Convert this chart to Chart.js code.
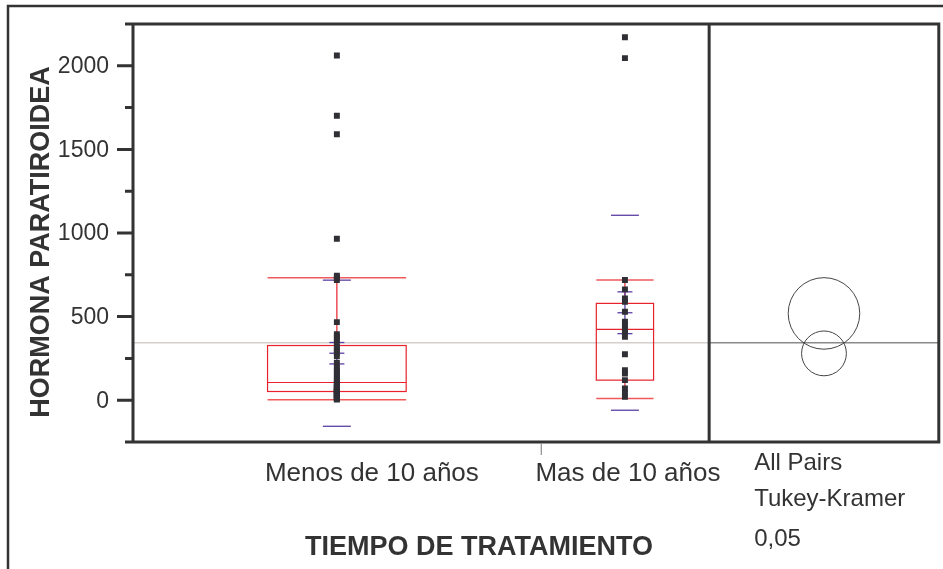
<!DOCTYPE html>
<html>
<head>
<meta charset="utf-8">
<script src="https://cdn.jsdelivr.net/npm/chart.js@4/dist/chart.umd.min.js"></script>
<style>
  html, body { margin: 0; padding: 0; background: #fff; }
  canvas { display: block; }
</style>
</head>
<body>
<canvas id="c" width="943" height="569"></canvas>
<script>
// Parathyroid hormone by treatment time: one-way analysis with outlier boxes,
// mean / std-dev lines and Tukey-Kramer comparison circles.
const categories = ['Menos de 10 años', 'Mas de 10 años'];
const groupSizes = [46, 19];

const menosValues = [
  2062, 1701, 1591, 966, 745, 732, 718, 467, 395, 380, 360, 340,
  315, 300, 285, 263, 223, 195, 180, 160, 145, 125, 112,
  100, 95, 88, 80, 75, 70, 65, 60, 57, 54, 52,
  48, 44, 40, 35, 30, 26, 22, 18, 14, 10, 7, 4
];
const masValues = [
  2171, 2046, 719, 663, 609, 589, 529, 469, 449, 423,
  409, 379, 275, 180, 160, 120, 70, 45, 20
];

// Outlier box statistics per group
const whiskerLow = [3, 10];
const quartile1 = [52, 120];
const medians = [106, 423];
const quartile3 = [327, 579];
const whiskerHigh = [732, 719];

// Means with standard deviation and standard error
const means = [281, 523];
const stdDevs = [437, 583];
const stdErrs = [64, 125];
const grandMean = 343;

// Tukey-Kramer comparison circles (center, radius in response units)
const circleCenters = [280, 519];
const circleRadii = [134, 214];

const yMajorTicks = [0, 500, 1000, 1500, 2000];
const yMinorTicks = [250, 750, 1250, 1750];
const yTitle = 'HORMONA PARATIROIDEA';
const xTitle = 'TIEMPO DE TRATAMIENTO';
const panelLines = ['All Pairs', 'Tukey-Kramer', '0,05'];

// Group centers along a cumulative-count x axis; the comparison-circle panel sits to the right.
const totalN = groupSizes.reduce((a, b) => a + b, 0);
const groupStart = groupSizes.map((n, i) => groupSizes.slice(0, i).reduce((a, b) => a + b, 0));
const groupCenter = groupSizes.map((n, i) => groupStart[i] + n / 2);
const panelWidth = totalN * 230 / 577;

const FONT = '"Liberation Sans", Arial, sans-serif';
const INK = '#333333';
const BOX_RED = '#e8222c';
const MEAN_PURPLE = '#5b3fa3';

const jmpPlot = {
  id: 'jmpPlot',
  beforeDatasetsDraw(chart) {
    const ctx = chart.ctx;
    const X = chart.scales.x, Y = chart.scales.y;
    const area = chart.chartArea;
    const divX = X.getPixelForValue(totalN);
    ctx.save();

    // grand mean reference line
    const gy = Y.getPixelForValue(grandMean);
    ctx.lineWidth = 1.5;
    ctx.strokeStyle = '#d4d0ce';
    ctx.beginPath(); ctx.moveTo(area.left, gy); ctx.lineTo(divX, gy); ctx.stroke();
    ctx.strokeStyle = '#8a8a8a';
    ctx.beginPath(); ctx.moveTo(divX, gy); ctx.lineTo(area.right, gy); ctx.stroke();

    groupSizes.forEach((n, i) => {
      const cx = X.getPixelForValue(groupCenter[i]);
      const half = X.getPixelForValue(groupCenter[i] + n * 0.17) - cx;
      const yq1 = Y.getPixelForValue(quartile1[i]);
      const yq3 = Y.getPixelForValue(quartile3[i]);
      const ymed = Y.getPixelForValue(medians[i]);
      const ylo = Y.getPixelForValue(whiskerLow[i]);
      const yhi = Y.getPixelForValue(whiskerHigh[i]);

      // whisker stems
      ctx.strokeStyle = BOX_RED;
      ctx.lineWidth = 1.2;
      ctx.beginPath();
      ctx.moveTo(cx, yhi); ctx.lineTo(cx, yq3);
      ctx.moveTo(cx, yq1); ctx.lineTo(cx, ylo);
      ctx.stroke();
      // whisker caps
      ctx.strokeStyle = '#f05a5a';
      ctx.lineWidth = 1.6;
      ctx.beginPath();
      ctx.moveTo(cx - half, yhi); ctx.lineTo(cx + half, yhi);
      ctx.moveTo(cx - half, ylo); ctx.lineTo(cx + half, ylo);
      ctx.stroke();
      // box and median
      ctx.strokeStyle = BOX_RED;
      ctx.lineWidth = 1.2;
      ctx.strokeRect(cx - half, yq3, 2 * half, yq1 - yq3);
      ctx.beginPath(); ctx.moveTo(cx - half, ymed); ctx.lineTo(cx + half, ymed); ctx.stroke();

      // mean, std error and std dev lines
      ctx.strokeStyle = MEAN_PURPLE;
      ctx.lineWidth = 1.3;
      const seg = (v, w) => {
        const y = Y.getPixelForValue(v);
        ctx.beginPath(); ctx.moveTo(cx - w, y); ctx.lineTo(cx + w, y); ctx.stroke();
      };
      seg(means[i] + stdDevs[i], 14);
      seg(means[i] - stdDevs[i], 14);
      seg(means[i] + stdErrs[i], 7.5);
      seg(means[i], 7.5);
      seg(means[i] - stdErrs[i], 7.5);
      ctx.beginPath();
      ctx.moveTo(cx, Y.getPixelForValue(means[i] + stdErrs[i]));
      ctx.lineTo(cx, Y.getPixelForValue(means[i] - stdErrs[i]));
      ctx.stroke();
    });

    // comparison circles
    const ccx = X.getPixelForValue(totalN + panelWidth / 2);
    ctx.strokeStyle = '#444';
    ctx.lineWidth = 1;
    circleCenters.forEach((c, i) => {
      const cy = Y.getPixelForValue(c);
      const r = cy - Y.getPixelForValue(c + circleRadii[i]);
      ctx.beginPath(); ctx.arc(ccx, cy, r, 0, Math.PI * 2); ctx.stroke();
    });
    ctx.restore();
  },
  afterDraw(chart) {
    const ctx = chart.ctx;
    const X = chart.scales.x, Y = chart.scales.y;
    const area = chart.chartArea;
    const divX = X.getPixelForValue(totalN);
    ctx.save();
    ctx.strokeStyle = INK;
    ctx.lineCap = 'butt';

    // outer frame (top and left)
    ctx.lineWidth = 2.5;
    ctx.beginPath();
    ctx.moveTo(8, chart.height); ctx.lineTo(8, 6); ctx.lineTo(chart.width, 6);
    ctx.stroke();

    // plot frame
    ctx.lineWidth = 3;
    ctx.beginPath();
    ctx.moveTo(area.left - 8, area.top); ctx.lineTo(area.right, area.top);
    ctx.moveTo(area.left - 8, area.bottom); ctx.lineTo(area.right, area.bottom);
    ctx.moveTo(area.left, area.top - 1.5); ctx.lineTo(area.left, area.bottom + 1.5);
    ctx.moveTo(divX, area.top - 1.5); ctx.lineTo(divX, area.bottom + 1.5);
    ctx.moveTo(area.right, area.top - 1.5); ctx.lineTo(area.right, area.bottom + 1.5);
    ctx.stroke();

    // y ticks
    ctx.beginPath();
    yMajorTicks.forEach(v => {
      const y = Y.getPixelForValue(v);
      ctx.moveTo(area.left - 16, y); ctx.lineTo(area.left, y);
    });
    yMinorTicks.forEach(v => {
      const y = Y.getPixelForValue(v);
      ctx.moveTo(area.left - 8, y); ctx.lineTo(area.left, y);
    });
    ctx.stroke();

    ctx.fillStyle = INK;
    ctx.font = '23px ' + FONT;
    ctx.textAlign = 'right';
    ctx.textBaseline = 'middle';
    yMajorTicks.forEach(v => {
      ctx.fillText(String(v), area.left - 24, Y.getPixelForValue(v) + 1);
    });

    // group boundary tick
    const bx = X.getPixelForValue(groupStart[1]);
    ctx.strokeStyle = '#777';
    ctx.lineWidth = 1;
    ctx.beginPath(); ctx.moveTo(bx + 0.5, area.bottom + 1.5); ctx.lineTo(bx + 0.5, area.bottom + 13); ctx.stroke();

    // category labels
    ctx.fillStyle = INK;
    ctx.font = '26px ' + FONT;
    ctx.textAlign = 'center';
    ctx.textBaseline = 'alphabetic';
    const labelShift = [35, 3];
    categories.forEach((c, i) => {
      ctx.fillText(c, X.getPixelForValue(groupCenter[i]) + labelShift[i], area.bottom + 39);
    });

    // comparison panel caption
    ctx.font = '24px ' + FONT;
    ctx.textAlign = 'left';
    const capY = [470, 506, 546];
    panelLines.forEach((t, i) => ctx.fillText(t, divX + 45, capY[i]));

    // axis titles
    ctx.font = 'bold 27px ' + FONT;
    ctx.textAlign = 'center';
    ctx.fillText(xTitle, 479, 555);
    ctx.save();
    ctx.translate(49, 242);
    ctx.rotate(-Math.PI / 2);
    ctx.fillText(yTitle, 0, 0);
    ctx.restore();

    ctx.restore();
  }
};

const pointStyle = {
  pointStyle: 'rect',
  pointRadius: 4.2,
  pointHoverRadius: 4.2,
  backgroundColor: '#2f2f35',
  borderColor: '#2f2f35',
  borderWidth: 0
};

new Chart(document.getElementById('c'), {
  type: 'scatter',
  data: {
    datasets: [
      Object.assign({ label: categories[0], data: menosValues.map(v => ({ x: groupCenter[0], y: v })) }, pointStyle),
      Object.assign({ label: categories[1], data: masValues.map(v => ({ x: groupCenter[1], y: v })) }, pointStyle)
    ]
  },
  options: {
    responsive: false,
    devicePixelRatio: 1,
    animation: false,
    layout: { padding: { left: 133, top: 24, right: 3, bottom: 127 } },
    plugins: { legend: { display: false }, tooltip: { enabled: false } },
    scales: {
      x: { type: 'linear', display: false, min: 0, max: totalN + panelWidth },
      y: { type: 'linear', display: false, min: -250, max: 2250 }
    }
  },
  plugins: [jmpPlot]
});
</script>
</body>
</html>
